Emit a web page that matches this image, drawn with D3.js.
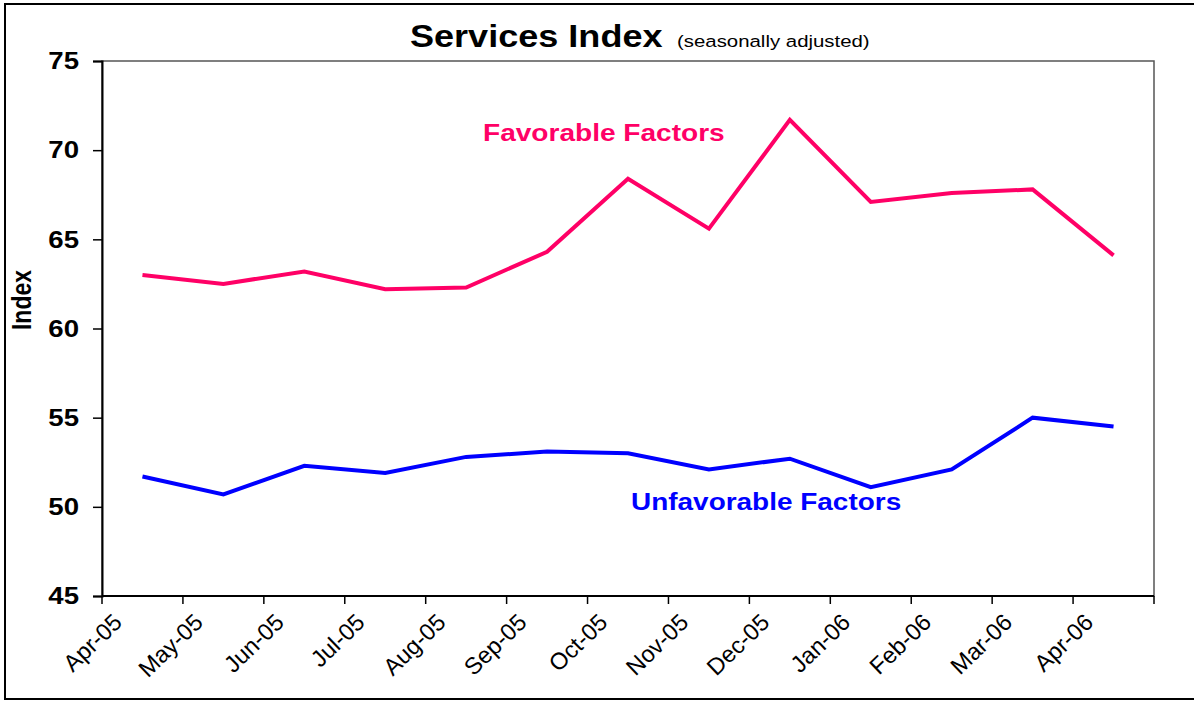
<!DOCTYPE html>
<html><head><meta charset="utf-8">
<script src="https://cdn.jsdelivr.net/npm/d3@7"></script>
<style>
body{margin:0;background:#fff}
svg{display:block}
text{font-family:"Liberation Sans",Arial,Helvetica,sans-serif}
</style>
</head><body>
<svg id="c" width="1194" height="702"></svg>
<script>
const months = ["Apr-05","May-05","Jun-05","Jul-05","Aug-05","Sep-05","Oct-05","Nov-05","Dec-05","Jan-06","Feb-06","Mar-06","Apr-06"];
const favorable = [63.0,62.5,63.2,62.2,62.3,64.3,68.4,65.6,71.7,67.1,67.6,67.8,64.1];
const unfavorable = [51.7,50.7,52.3,51.9,52.8,53.1,53.0,52.1,52.7,51.1,52.1,55.0,54.5];
const yTicks = [45,50,55,60,65,70,75];

const svg = d3.select("#c");
const L = 102, R = 1154, T = 61, B = 596;
const SX = 1.2;

const x = d3.scaleBand().domain(months).range([L, R]);
const y = d3.scaleLinear().domain([45, 75]).range([B, T]);

// outer frame
svg.append("rect").attr("x",5).attr("y",4).attr("width",1200).attr("height",695)
  .attr("fill","none").attr("stroke","#000").attr("stroke-width",2);

// plot frame
svg.append("rect").attr("x",L).attr("y",T).attr("width",R-L).attr("height",B-T)
  .attr("fill","none").attr("stroke","#555").attr("stroke-width",1.5);

// y axis
const yAxis = svg.append("g").attr("transform",`translate(${L},0)`)
  .call(d3.axisLeft(y).tickValues(yTicks).tickSize(9).tickFormat(""));
yAxis.select(".domain").attr("stroke","#000").attr("stroke-width",2);
yAxis.selectAll(".tick line").attr("stroke","#000").attr("stroke-width",1.5);

svg.append("g").selectAll("text").data(yTicks).join("text")
  .attr("transform", d => `translate(79,${y(d)}) scale(${SX},1)`)
  .attr("dy","0.36em").attr("text-anchor","end")
  .attr("font-size",23).attr("font-weight","bold").attr("fill","#000")
  .text(d => d);

// x axis
const bounds = months.map(m => x(m)).concat([R]);
const xAxis = svg.append("g");
xAxis.append("line").attr("x1",L).attr("x2",R).attr("y1",B).attr("y2",B)
  .attr("stroke","#000").attr("stroke-width",2);
xAxis.selectAll("line.tk").data(bounds).join("line").attr("class","tk")
  .attr("x1",d=>d).attr("x2",d=>d).attr("y1",B).attr("y2",B+8)
  .attr("stroke","#000").attr("stroke-width",1.5);
xAxis.selectAll("text").data(months).join("text")
  .attr("transform", d => `translate(${x(d)+x.bandwidth()/2-19},${B+28}) rotate(-44)`)
  .attr("text-anchor","end").attr("font-size",23.5).attr("fill","#000")
  .text(d => d);

// lines
const line = d3.line().x((d,i) => x(months[i]) + x.bandwidth()/2).y(d => y(d));
svg.append("path").datum(favorable).attr("d",line)
  .attr("fill","none").attr("stroke","#FF0066").attr("stroke-width",4).attr("stroke-linejoin","miter");
svg.append("path").datum(unfavorable).attr("d",line)
  .attr("fill","none").attr("stroke","#0000FF").attr("stroke-width",4).attr("stroke-linejoin","miter");

// series labels
svg.append("text").attr("transform",`translate(483,141) scale(${SX},1)`)
  .attr("font-size",23.4).attr("font-weight","bold").attr("fill","#FF0066").text("Favorable Factors");
svg.append("text").attr("transform",`translate(631,510) scale(${SX},1)`)
  .attr("font-size",23.3).attr("font-weight","bold").attr("fill","#0000FF").text("Unfavorable Factors");

// title
svg.append("text").attr("transform",`translate(410,47) scale(1.12,1)`)
  .attr("font-size",32.2).attr("font-weight","bold").attr("fill","#000").text("Services Index");
svg.append("text").attr("transform",`translate(677,47) scale(${SX},1)`)
  .attr("font-size",17).attr("fill","#000").text("(seasonally adjusted)");

// y label
svg.append("text").attr("transform",`translate(31,300) scale(${SX},1) rotate(-90)`)
  .attr("text-anchor","middle").attr("font-size",23).attr("font-weight","bold").attr("fill","#000").text("Index");
</script>
</body></html>
